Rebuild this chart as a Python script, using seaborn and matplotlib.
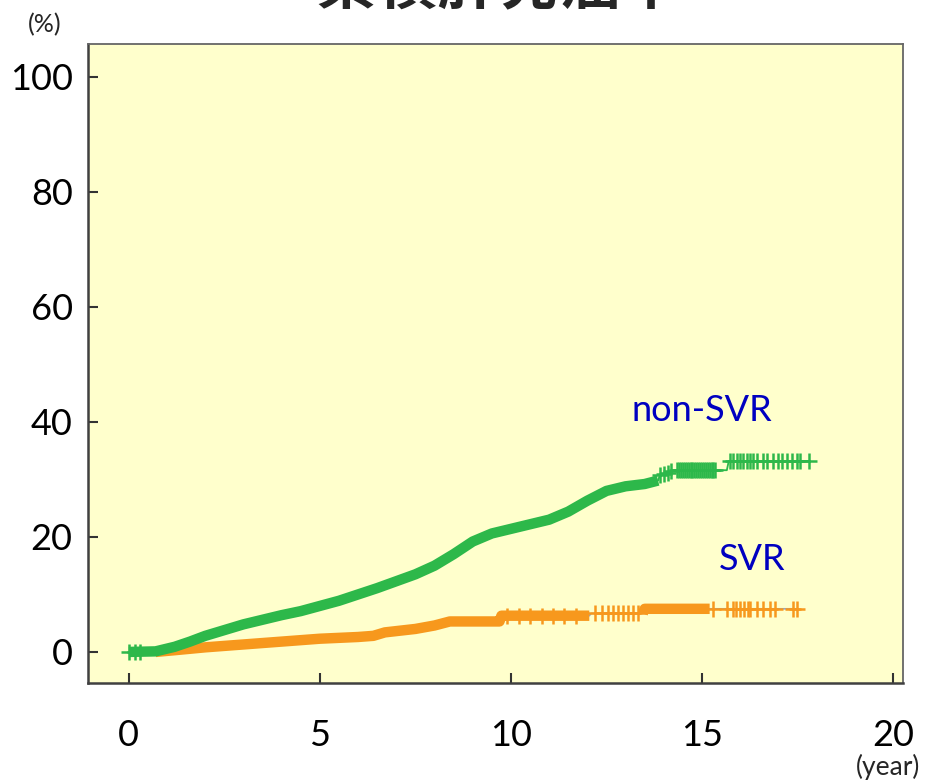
import numpy as np
import pandas as pd
import seaborn as sns
import matplotlib.pyplot as plt

# curve knots (year, cumulative %)
green_t = [0.0, 0.7, 1.2, 1.6, 2.0, 2.5, 3.0, 3.5, 4.0, 4.5, 5.0, 5.5, 6.0, 6.5, 7.0,
           7.5, 8.0, 8.5, 9.0, 9.5, 10.0, 10.5, 11.0, 11.5, 12.0, 12.5, 13.0, 13.5,
           13.85, 13.9, 14.3, 15.65, 15.7, 17.8]
green_y = [0.0, 0.1, 0.9, 1.8, 2.8, 3.8, 4.8, 5.6, 6.4, 7.1, 8.0, 8.9, 10.0, 11.1, 12.3,
           13.5, 15.0, 17.0, 19.2, 20.6, 21.4, 22.2, 23.0, 24.4, 26.3, 28.0, 28.8, 29.2,
           29.8, 30.8, 31.6, 31.6, 33.2, 33.2]

orange_t = [0.0, 0.7, 1.2, 2.0, 3.0, 4.0, 5.0, 6.0, 6.4, 6.7, 7.5, 8.0, 8.4, 9.7, 9.75,
            12.05, 12.1, 13.45, 13.5, 15.2, 17.5]
orange_y = [0.0, 0.0, 0.3, 0.8, 1.3, 1.8, 2.3, 2.6, 2.8, 3.4, 4.0, 4.6, 5.3, 5.3, 6.3,
            6.3, 6.7, 6.7, 7.5, 7.5, 7.5]

# ranges where censor marks are so dense they merge into a band
green_dense = [(0.0, 13.85)]
orange_dense = [(0.6, 12.05), (13.45, 15.2)]

# separate censor marks (year, %)
green_cens_t = [0.0, 0.15, 0.3, 13.9, 14.0, 14.1, 14.2, 14.35, 14.4, 14.45, 14.5, 14.55, 14.6,
                14.65, 14.7, 14.75, 14.8, 14.85, 14.9, 14.95, 15.0, 15.05, 15.1, 15.15,
                15.2, 15.25, 15.3, 15.35, 15.73, 15.81, 15.91, 15.99,
                16.08, 16.17, 16.26, 16.34, 16.43, 16.6, 16.69, 16.86, 16.99, 17.09,
                17.22, 17.35, 17.48, 17.56, 17.8]
green_cens_y = [0.0, 0.0, 0.0, 30.8, 31.0, 31.2, 31.4, 31.6, 31.6, 31.6, 31.6, 31.6, 31.6,
                31.6, 31.6, 31.6, 31.6, 31.6, 31.6, 31.6, 31.6, 31.6, 31.6, 31.6,
                31.6, 31.6, 31.6, 31.6, 33.2, 33.2, 33.2, 33.2,
                33.2, 33.2, 33.2, 33.2, 33.2, 33.2, 33.2, 33.2, 33.2, 33.2,
                33.2, 33.2, 33.2, 33.2, 33.2]

orange_cens_t = [9.9, 10.2, 10.5, 10.8, 11.1, 11.4, 11.7, 12.2, 12.37, 12.55, 12.68, 12.81,
                 12.94, 13.07, 13.2, 13.33, 15.3, 15.65, 15.8, 15.9, 16.0, 16.1, 16.2,
                 16.25, 16.43, 16.6, 16.78, 16.91, 17.39, 17.48]
orange_cens_y = [6.3, 6.3, 6.3, 6.3, 6.3, 6.3, 6.3, 6.7, 6.7, 6.7, 6.7, 6.7,
                 6.7, 6.7, 6.7, 6.7, 7.5, 7.5, 7.5, 7.5, 7.5, 7.5, 7.5,
                 7.5, 7.5, 7.5, 7.5, 7.5, 7.5, 7.5]

x_ticks = [0, 5, 10, 15, 20]
y_ticks = [0, 20, 40, 60, 80, 100]
title = "累積肝発癌率"

GREEN = "#2db84a"
ORANGE = "#f7981d"
BLUE = "#0000c0"

sns.set_style("ticks")
plt.rcParams["font.family"] = ["Lato", "DejaVu Sans"]

fig = plt.figure(figsize=(9.27, 7.82), dpi=100)
ax = fig.add_axes([0.0949, 0.1266, 0.8792, 0.8171])
ax.set_facecolor("#ffffcc")

green = pd.DataFrame({"t": green_t, "y": green_y})
orange = pd.DataFrame({"t": orange_t, "y": orange_y})

# dense band first
for df, dense, col in [(orange, orange_dense, ORANGE), (green, green_dense, GREEN)]:
    for a, b in dense:
        seg = df[(df.t >= a) & (df.t <= b)]
        sns.lineplot(data=seg, x="t", y="y", color=col, linewidth=7.5,
                     estimator=None, sort=False, ax=ax, solid_capstyle="butt")

# thin step lines
sns.lineplot(data=orange, x="t", y="y", color="#8fa6c8", linewidth=1.2,
             estimator=None, sort=False, ax=ax, zorder=1)
sns.lineplot(data=green, x="t", y="y", color=GREEN, linewidth=1.3,
             estimator=None, sort=False, ax=ax)

# censor marks
sns.scatterplot(x=orange_cens_t, y=orange_cens_y, marker="+", s=120, linewidth=1.8,
                color=ORANGE, ax=ax, zorder=3)
sns.scatterplot(x=green_cens_t, y=green_cens_y, marker="+", s=120, linewidth=1.8,
                color=GREEN, ax=ax, zorder=3)

ax.set_xlim(-1.07, 20.26)
ax.set_ylim(-5.4, 105.7)
ax.set_xticks(x_ticks)
ax.set_yticks(y_ticks)
ax.set_xlabel("")
ax.set_ylabel("")
ax.tick_params(axis="both", direction="in", length=7, width=1.5, color="#333333",
               labelsize=26, labelcolor="black")
ax.tick_params(axis="y", pad=11)
ax.tick_params(axis="x", pad=26)
for side in ["left", "bottom"]:
    ax.spines[side].set_color("#404040")
    ax.spines[side].set_linewidth(1.8)
for side in ["top", "right"]:
    ax.spines[side].set_visible(True)
    ax.spines[side].set_color("#666666")
    ax.spines[side].set_linewidth(1.3)

ax.text(15.0, 41.9, "non-SVR", color=BLUE, fontsize=26, ha="center", va="center")
ax.text(16.3, 16.0, "SVR", color=BLUE, fontsize=26, ha="center", va="center")

fig.text(45 / 927, 1 - 25 / 782, "(%)", fontsize=18, ha="center", va="center")
fig.text(888 / 927, 1 - 767 / 782, "(year)", fontsize=19, ha="center", va="center")

# title is cut off by the top edge in the reference
fig.text(0.538, 0.995, title, fontsize=44, fontweight="bold", ha="center",
         va="baseline", family=["Noto Sans CJK JP", "DejaVu Sans"])

fig.savefig("out.png", dpi=100, facecolor="white")
